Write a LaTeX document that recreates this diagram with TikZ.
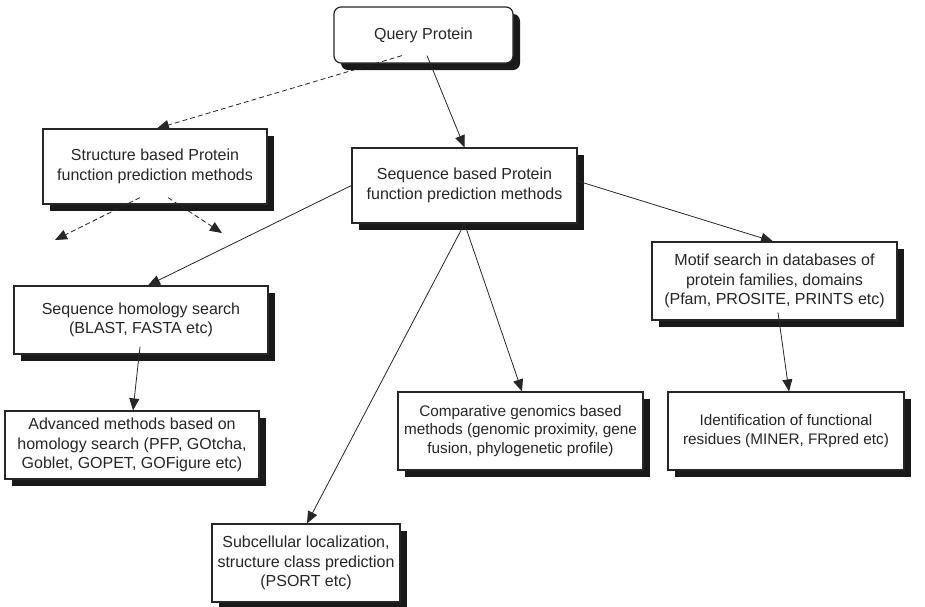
\documentclass[tikz,border=0pt]{standalone}
\usepackage{fontspec}
\setmainfont{Liberation Sans}
\usetikzlibrary{shadows,arrows.meta,calc}
\begin{document}
\begin{tikzpicture}[x=1pt,y=-1pt,
  box/.style={draw=black!85,line width=1.2pt,fill=white,align=center,inner sep=0pt,
    font=\fontsize{16}{19.5}\selectfont,text=black!85,
    drop shadow={shadow xshift=7pt,shadow yshift=-7pt,fill=black!90,opacity=1}},
  smallbox/.style={box,font=\fontsize{15.3}{18.3}\selectfont},
  conn/.style={draw=black!85,line width=0.8pt,-{Triangle[length=12pt,width=10pt]}},
  dconn/.style={conn,dash pattern=on 5pt off 3pt}]
\useasboundingbox (0,0) rectangle (925,606);
\node[box,rounded corners=7pt,minimum width=179pt,minimum height=56pt] (q) at (423.5,35) {Query Protein};
\node[box,minimum width=224pt,minimum height=75pt] (st) at (155,166.5) {Structure based Protein\\function prediction methods};
\node[box,minimum width=225pt,minimum height=75pt] (sq) at (464.5,185.5) {Sequence based Protein\\function prediction methods};
\node[box,minimum width=245pt,minimum height=78pt] (mo) at (774.5,281) {Motif search in databases of\\protein families, domains\\(Pfam, PROSITE, PRINTS etc)};
\node[box,minimum width=254pt,minimum height=68pt] (ho) at (141,320) {Sequence homology search\\(BLAST, FASTA etc)};
\node[box,minimum width=254pt,minimum height=68pt] (ad) at (132,445) {Advanced methods based on\\homology search (PFP, GOtcha,\\Goblet, GOPET, GOFigure etc)};
\node[smallbox,minimum width=245pt,minimum height=78pt] (co) at (520.5,431) {Comparative genomics based\\methods (genomic proximity, gene\\fusion, phylogenetic profile)};
\node[smallbox,minimum width=236pt,minimum height=78pt] (id) at (786,431) {Identification of functional\\residues (MINER, FRpred etc)};
\node[box,minimum width=188pt,minimum height=78pt] (su) at (306,563) {Subcellular localization,\\structure class prediction\\(PSORT etc)};
\coordinate (d1) at (55,240);
\coordinate (d2) at (222,233);
\draw[dconn] ([xshift=-21.5pt,yshift=8pt]q.south) -- ([xshift=2pt]st.north);
\draw[conn] ([xshift=3.5pt,yshift=8pt]q.south) -- (sq.north);
\draw[dconn] ([xshift=-15pt,yshift=7pt]st.south) -- (d1);
\draw[dconn] ([xshift=13pt,yshift=7pt]st.south) -- (d2);
\draw[conn] (sq.west) -- ([xshift=7pt]ho.north);
\draw[conn] ([yshift=4.5pt]sq.east) -- ([xshift=-1.5pt]mo.north);
\draw[conn] (sq.south) -- ([xshift=1.5pt]co.north);
\draw[conn] (sq.south) -- ([xshift=1pt]su.north);
\draw[conn] ([xshift=3.5pt,yshift=8pt]mo.south) -- ([xshift=3pt]id.north);
\draw[conn] ([xshift=-1pt,yshift=8pt]ho.south) -- ([xshift=1pt]ad.north);
\end{tikzpicture}
\end{document}
